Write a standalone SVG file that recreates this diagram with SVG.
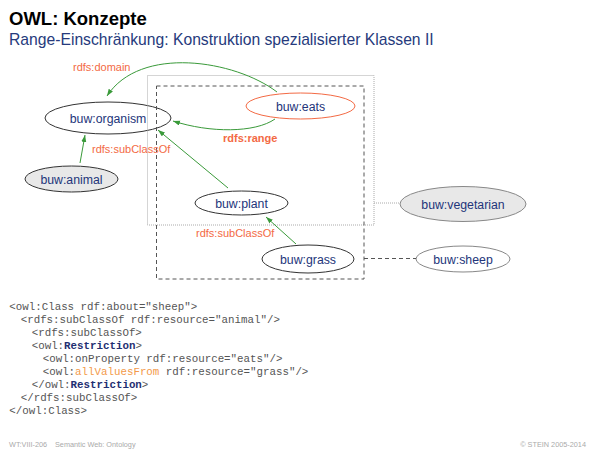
<svg xmlns="http://www.w3.org/2000/svg" width="600" height="450" viewBox="0 0 600 450">
<style>
.t{font-family:"Liberation Sans",Arial,sans-serif}
.node{fill:#fff;stroke:#333;stroke-width:1}
.gray{fill:#e8e8e8}
.light{stroke:#888}
.nl{font-family:"Liberation Sans",Arial,sans-serif;font-size:12.3px;fill:#23357a;text-anchor:middle}
.edge{fill:none;stroke:#3a9a3a;stroke-width:1}
.el{font-family:"Liberation Sans",Arial,sans-serif;font-size:11px;fill:#f36a44}
.code{font-family:"Liberation Mono","Courier New",monospace;font-size:10.8px;fill:#555}
.kw{font-weight:bold;fill:#1f2f72}
.av{fill:#f39a4a}
.foot{font-family:"Liberation Sans",Arial,sans-serif;font-size:7.3px;fill:#aaa}
</style>
<defs>
<marker id="ah" markerUnits="userSpaceOnUse" markerWidth="8" markerHeight="6" refX="7" refY="2.5" orient="auto">
<path d="M0,0 L7,2.5 L0,5 z" fill="#3a9a3a"/>
</marker>
</defs>
<rect width="600" height="450" fill="#fff"/>
<text class="t" x="9" y="25" font-size="18.5" font-weight="bold" fill="#000">OWL: Konzepte</text>
<text class="t" x="9" y="45" font-size="15.7" fill="#263a7c">Range-Einschränkung: Konstruktion spezialisierter Klassen II</text>

<g id="node-organism"><ellipse class="node" cx="108" cy="118" rx="63" ry="16"/><text class="nl" x="108" y="122.5">buw:organism</text></g>
<g id="node-animal"><ellipse class="node gray" cx="71.5" cy="179" rx="46.5" ry="13"/><text class="nl" x="71.5" y="183.5">buw:animal</text></g>
<g id="node-eats"><ellipse class="node" style="stroke:#f36a44" cx="300.5" cy="106" rx="54.5" ry="13"/><text class="nl" x="300.5" y="110.5">buw:eats</text></g>
<g id="node-plant"><ellipse class="node" cx="241.5" cy="203" rx="46.5" ry="12"/><text class="nl" x="241.5" y="207.5">buw:plant</text></g>
<g id="node-grass"><ellipse class="node" cx="308" cy="259" rx="46" ry="14"/><text class="nl" x="308" y="263.5">buw:grass</text></g>
<g id="node-vegetarian"><ellipse class="node gray light" cx="463" cy="204" rx="63" ry="17.5"/><text class="nl" x="463" y="208.5">buw:vegetarian</text></g>
<g id="node-sheep"><ellipse class="node light" cx="463" cy="259" rx="47" ry="13"/><text class="nl" x="463" y="263.5">buw:sheep</text></g>

<g id="regions">
<rect x="147.5" y="75.5" width="226.5" height="149.5" fill="none" stroke="#aaa" stroke-width="1" stroke-dasharray="1,1"/>
<rect x="156.5" y="86" width="207.5" height="193" fill="none" stroke="#555" stroke-width="1" stroke-dasharray="4,3"/>
</g>

<g id="connectors">
<path class="edge" d="M277,92 C235,60 140,45 107,96" marker-end="url(#ah)"/>
<path class="edge" d="M275,119 C255,133 210,133 173,121" marker-end="url(#ah)"/>
<path class="edge" d="M228,188 L158,130" marker-end="url(#ah)"/>
<path class="edge" d="M80,163 L85,135" marker-end="url(#ah)"/>
<path class="edge" d="M296,244 L266,217" marker-end="url(#ah)"/>
<path d="M374,203 L400,203" fill="none" stroke="#aaa" stroke-dasharray="1,1"/>
<path d="M364,258.5 L416,258.5" fill="none" stroke="#555" stroke-dasharray="4,3"/>
<text class="el" x="73" y="71">rdfs:domain</text>
<text class="el" x="223" y="142" font-weight="bold">rdfs:range</text>
<text class="el" x="92" y="153">rdfs:subClassOf</text>
<text class="el" x="196" y="237">rdfs:subClassOf</text>
</g>

<g id="code">
<text class="code" x="9.3" y="310">&lt;owl:Class rdf:about="sheep"&gt;</text>
<text class="code" x="20.7" y="323">&lt;rdfs:subClassOf rdf:resource="animal"/&gt;</text>
<text class="code" x="31.7" y="336">&lt;rdfs:subClassOf&gt;</text>
<text class="code" x="31.7" y="349">&lt;owl:<tspan class="kw">Restriction</tspan>&gt;</text>
<text class="code" x="42.7" y="362">&lt;owl:onProperty rdf:resource="eats"/&gt;</text>
<text class="code" x="42.7" y="375">&lt;owl:<tspan class="av">allValuesFrom</tspan> rdf:resource="grass"/&gt;</text>
<text class="code" x="31.7" y="388">&lt;/owl:<tspan class="kw">Restriction</tspan>&gt;</text>
<text class="code" x="20.7" y="401">&lt;/rdfs:subClassOf&gt;</text>
<text class="code" x="9.3" y="414">&lt;/owl:Class&gt;</text>
</g>

<g id="footer">
<text class="foot" x="9" y="446.5">WT:VIII-206</text>
<text class="foot" x="55" y="446.5">Semantic Web: Ontology</text>
<text class="foot" x="586" y="446.5" text-anchor="end">© STEIN 2005-2014</text>
</g>
</svg>
